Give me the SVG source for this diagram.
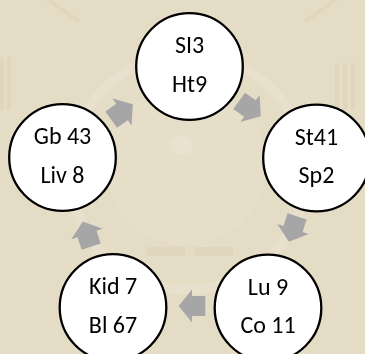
<svg xmlns="http://www.w3.org/2000/svg" width="365" height="354" viewBox="0 0 365 354">
  <style>
    .node circle { fill: #ffffff; stroke: #000000; stroke-width: 2.3; }
    .node text { font-family: Carlito, Lato, "Liberation Sans", sans-serif; font-size: 24px; fill: #000000; text-anchor: middle; }
    .arrow { fill: #a6a6a6; }
    .wm { fill: #ddd2b9; }
    .wm2 { fill: none; stroke: #ebe3d2; }
  </style>
  <defs>
    <polygon id="blk" points="-13.3,-10 0,-10 0,-16.5 13.3,0 0,16.5 0,10 -13.3,10"/>
  </defs>
  <rect x="0" y="0" width="365" height="354" fill="#e5dcc6"/>
  <g id="watermark" opacity="0.55">
    <circle class="wm2" cx="188" cy="172" r="118" stroke-width="10"/>
    <circle cx="186" cy="165" r="80" fill="#e9e1ce"/>
    <circle cx="182" cy="145" r="10" fill="#efe8d8"/>
    <rect class="wm" x="0" y="57" width="4" height="53"/>
    <rect class="wm" x="7" y="57" width="4" height="53"/>
    <rect class="wm" x="335" y="63" width="4" height="47"/>
    <rect class="wm" x="343" y="63" width="4" height="47"/>
    <rect class="wm" x="351" y="63" width="4" height="47"/>
    <rect class="wm" x="147" y="247" width="38" height="9"/>
    <rect class="wm" x="195" y="247" width="38" height="9"/>
    <rect class="wm" x="36" y="6" width="48" height="4" transform="rotate(35 60 8)"/>
    <rect class="wm" x="300" y="6" width="48" height="4" transform="rotate(-35 324 8)"/>
  </g>
  <g id="connectors">
    <use href="#blk" class="arrow" transform="translate(122,112) rotate(-35.6)"/>
    <use href="#blk" class="arrow" transform="translate(250,108.5) rotate(35.6)"/>
    <use href="#blk" class="arrow" transform="translate(293,229) rotate(107.9)"/>
    <use href="#blk" class="arrow" transform="translate(192,306) rotate(180)"/>
    <use href="#blk" class="arrow" transform="translate(87,234) rotate(-108.4)"/>
  </g>
  <g id="n-si3" class="node">
    <circle cx="189.5" cy="66.5" r="53.3"/>
    <text x="189.5" y="53.3">SI3</text>
    <text x="189.5" y="91.5">Ht9</text>
  </g>
  <g id="n-st41" class="node">
    <circle cx="316.5" cy="158" r="53.3"/>
    <text x="316.5" y="144.8">St41</text>
    <text x="316.5" y="183">Sp2</text>
  </g>
  <g id="n-lu9" class="node">
    <circle cx="268" cy="308" r="53.3"/>
    <text x="268" y="294.8">Lu 9</text>
    <text x="268" y="333">Co 11</text>
  </g>
  <g id="n-kid7" class="node">
    <circle cx="113" cy="307.5" r="53.3"/>
    <text x="113" y="294.3">Kid 7</text>
    <text x="113" y="332.5">Bl 67</text>
  </g>
  <g id="n-gb43" class="node">
    <circle cx="62.5" cy="157.5" r="53.3"/>
    <text x="62.5" y="144.3">Gb 43</text>
    <text x="62.5" y="182.5">Liv 8</text>
  </g>
</svg>
